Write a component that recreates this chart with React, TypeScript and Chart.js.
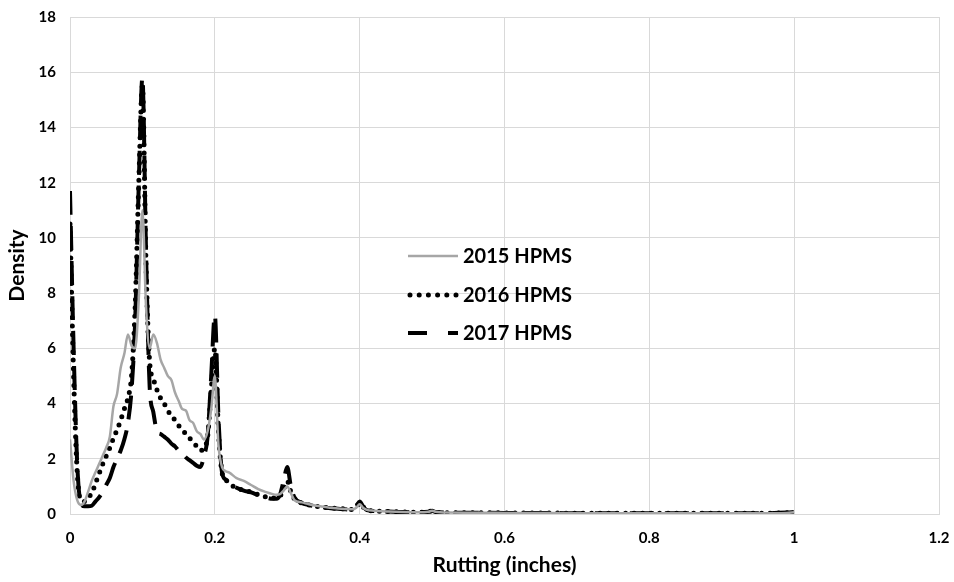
import React, { useEffect, useRef } from "react";
import { Chart, registerables } from "chart.js";

Chart.register(...registerables);

// Rutting (inches) sample positions shared by all series
const xValues = [
  0, 0.005, 0.01, 0.015, 0.02, 0.025, 0.03, 0.035, 0.04, 0.045,
  0.05, 0.055, 0.06, 0.065, 0.07, 0.075, 0.08, 0.085, 0.09, 0.095,
  0.1, 0.105, 0.11, 0.115, 0.12, 0.125, 0.13, 0.135, 0.14, 0.145,
  0.15, 0.155, 0.16, 0.165, 0.17, 0.175, 0.18, 0.185, 0.19, 0.195,
  0.2, 0.205, 0.21, 0.215, 0.22, 0.23, 0.24, 0.25, 0.26, 0.27,
  0.28, 0.285, 0.29, 0.295, 0.3, 0.305, 0.31, 0.32, 0.33, 0.34,
  0.35, 0.36, 0.37, 0.38, 0.39, 0.395, 0.4, 0.405, 0.41, 0.42,
  0.44, 0.46, 0.48, 0.495, 0.5, 0.505, 0.52, 0.55, 0.6, 0.65,
  0.7, 0.75, 0.8, 0.85, 0.9, 0.95, 0.99, 1.0,
];

const hpms2015 = [
  2.7, 1.2, 0.5, 0.33, 0.45, 0.8, 1.2, 1.5, 1.8, 2.1,
  2.4, 2.8, 3.9, 4.35, 5.3, 5.8, 6.5, 6.1, 6.0, 7.8,
  11.0, 7.5, 6.0, 6.5, 6.2, 5.6, 5.3, 5.0, 4.85, 4.4,
  4.1, 3.8, 3.75, 3.4, 3.3, 3.0, 2.9, 2.7, 3.0, 3.8,
  5.0, 2.5, 1.7, 1.55, 1.5, 1.3, 1.2, 1.05, 0.9, 0.8,
  0.72, 0.7, 0.72, 0.85, 1.0, 0.75, 0.5, 0.42, 0.35, 0.3,
  0.26, 0.23, 0.2, 0.18, 0.17, 0.22, 0.35, 0.22, 0.15, 0.12,
  0.09, 0.07, 0.06, 0.08, 0.12, 0.08, 0.05, 0.045, 0.04, 0.035,
  0.03, 0.03, 0.03, 0.025, 0.025, 0.025, 0.04, 0.06,
];

const hpms2016 = [
  10.5, 5.0, 1.5, 0.5, 0.45, 0.6, 0.75, 1.1, 1.45, 1.8,
  2.1, 2.4, 2.75, 3.05, 3.4, 3.8, 4.2, 5.0, 7.5, 12.0,
  15.5, 9.0, 5.5, 4.9, 4.5, 4.2, 4.0, 3.75, 3.55, 3.4,
  3.2, 3.05, 2.9, 2.75, 2.6, 2.45, 2.3, 2.4, 2.8, 4.5,
  6.0, 3.0, 1.5, 1.25, 1.1, 0.95, 0.85, 0.8, 0.7, 0.62,
  0.58, 0.58, 0.65, 0.9, 1.2, 0.8, 0.55, 0.4, 0.33, 0.28,
  0.25, 0.22, 0.2, 0.18, 0.16, 0.25, 0.4, 0.25, 0.14, 0.11,
  0.09, 0.07, 0.06, 0.08, 0.11, 0.07, 0.05, 0.045, 0.04, 0.035,
  0.03, 0.03, 0.03, 0.025, 0.025, 0.025, 0.045, 0.065,
];

const hpms2017 = [
  11.7, 6.0, 1.8, 0.4, 0.28, 0.28, 0.3, 0.45, 0.6, 0.8,
  1.05, 1.3, 1.7, 2.0, 2.3, 2.7, 3.3, 4.5, 7.0, 12.0,
  15.8, 9.5, 4.6, 3.7, 3.0, 2.9, 2.8, 2.7, 2.55, 2.45,
  2.3, 2.2, 2.05, 1.95, 1.85, 1.75, 1.7, 2.1, 2.8, 5.0,
  7.2, 3.5, 1.5, 1.25, 1.1, 0.95, 0.85, 0.78, 0.68, 0.6,
  0.55, 0.55, 0.7, 1.2, 1.7, 1.0, 0.6, 0.4, 0.33, 0.27,
  0.24, 0.21, 0.19, 0.17, 0.16, 0.28, 0.45, 0.27, 0.14, 0.11,
  0.09, 0.07, 0.06, 0.08, 0.12, 0.07, 0.05, 0.045, 0.04, 0.035,
  0.03, 0.03, 0.03, 0.025, 0.025, 0.025, 0.05, 0.07,
];

const seriesLabels = ["2015 HPMS", "2016 HPMS", "2017 HPMS"];
const xTickLabels = ["0", "0.2", "0.4", "0.6", "0.8", "1", "1.2"];
const yTickLabels = ["0", "2", "4", "6", "8", "10", "12", "14", "16", "18"];
const xTitle = "Rutting (inches)";
const yTitle = "Density";

const FONT = "Lato, 'Open Sans', 'DejaVu Sans', sans-serif";

const legendStyles = [
  { color: "#a6a6a6", width: 2.5, dash: [] as number[], cap: "butt" as CanvasLineCap, x0: 408, x1: 458, y: 256 },
  { color: "#000000", width: 5, dash: [0, 9.2], cap: "round" as CanvasLineCap, x0: 410, x1: 456, y: 295 },
  { color: "#000000", width: 4, dash: [19, 21], cap: "butt" as CanvasLineCap, x0: 408, x1: 458, y: 333 },
];

const insideLegend = {
  id: "insideLegend",
  afterDatasetsDraw(chart: any) {
    const ctx: CanvasRenderingContext2D = chart.ctx;
    chart.data.datasets.forEach((ds: any, i: number) => {
      const st = legendStyles[i];
      ctx.save();
      ctx.strokeStyle = st.color;
      ctx.lineWidth = st.width;
      ctx.lineCap = st.cap;
      ctx.setLineDash(st.dash);
      ctx.beginPath();
      ctx.moveTo(st.x0, st.y);
      ctx.lineTo(st.x1, st.y);
      ctx.stroke();
      ctx.setLineDash([]);
      ctx.fillStyle = "#000000";
      ctx.font = `bold 20px ${FONT}`;
      ctx.textAlign = "left";
      ctx.textBaseline = "middle";
      ctx.fillText(ds.label, 463, st.y + 1);
      ctx.restore();
    });
  },
};

export default function App() {
  const canvasRef = useRef<HTMLCanvasElement | null>(null);

  useEffect(() => {
    document.body.style.margin = "0";
    const canvas = canvasRef.current;
    if (!canvas) return;
    const toPoints = (ys: number[]) => xValues.map((x, i) => ({ x, y: ys[i] }));

    const chart = new Chart(canvas, {
      type: "line",
      data: {
        datasets: [
          {
            label: seriesLabels[0],
            data: toPoints(hpms2015),
            borderColor: "#a6a6a6",
            borderWidth: 2.5,
            pointRadius: 0,
            cubicInterpolationMode: "monotone",
          },
          {
            label: seriesLabels[1],
            data: toPoints(hpms2016),
            borderColor: "#000000",
            borderWidth: 5,
            borderDash: [0, 8.5],
            borderCapStyle: "round",
            pointRadius: 0,
            cubicInterpolationMode: "monotone",
          },
          {
            label: seriesLabels[2],
            data: toPoints(hpms2017),
            borderColor: "#000000",
            borderWidth: 4,
            borderDash: [24, 11],
            pointRadius: 0,
            cubicInterpolationMode: "monotone",
          },
        ],
      },
      options: {
        responsive: false,
        animation: false,
        layout: { padding: { top: 17, right: 15, left: 0, bottom: 0 } },
        plugins: { legend: { display: false }, tooltip: { enabled: false } },
        scales: {
          x: {
            type: "linear",
            min: 0,
            max: 1.2,
            ticks: {
              stepSize: 0.2,
              padding: 15,
              color: "#000000",
              font: { family: FONT, size: 15, weight: "bold" },
              callback: (_v: any, i: number) => xTickLabels[i],
            },
            grid: { color: "#d9d9d9", lineWidth: 1, drawTicks: false },
            border: { color: "#d9d9d9" },
            title: {
              display: true,
              text: xTitle,
              color: "#000000",
              font: { family: FONT, size: 21, weight: "bold" },
              padding: { top: 0, bottom: 4 },
            },
            afterFit: (scale: any) => {
              scale.height = 68;
              scale.paddingLeft = 0;
              scale.paddingRight = 0;
            },
          },
          y: {
            min: 0,
            max: 18,
            ticks: {
              stepSize: 2,
              padding: 14,
              color: "#000000",
              font: { family: FONT, size: 15, weight: "bold" },
              callback: (_v: any, i: number) => yTickLabels[i],
            },
            grid: { color: "#d9d9d9", lineWidth: 1, drawTicks: false },
            border: { color: "#d9d9d9" },
            title: {
              display: true,
              text: yTitle,
              color: "#000000",
              font: { family: FONT, size: 21, weight: "bold" },
              padding: { top: 5, bottom: 0 },
            },
            afterFit: (scale: any) => {
              scale.width = 70;
              scale.paddingTop = 0;
              scale.paddingBottom = 0;
            },
          },
        },
      },
      plugins: [insideLegend],
    } as any);

    return () => chart.destroy();
  }, []);

  return (
    <div style={{ width: 954, height: 582, position: "relative", background: "#ffffff" }}>
      <canvas ref={canvasRef} width={954} height={582} />
    </div>
  );
}
